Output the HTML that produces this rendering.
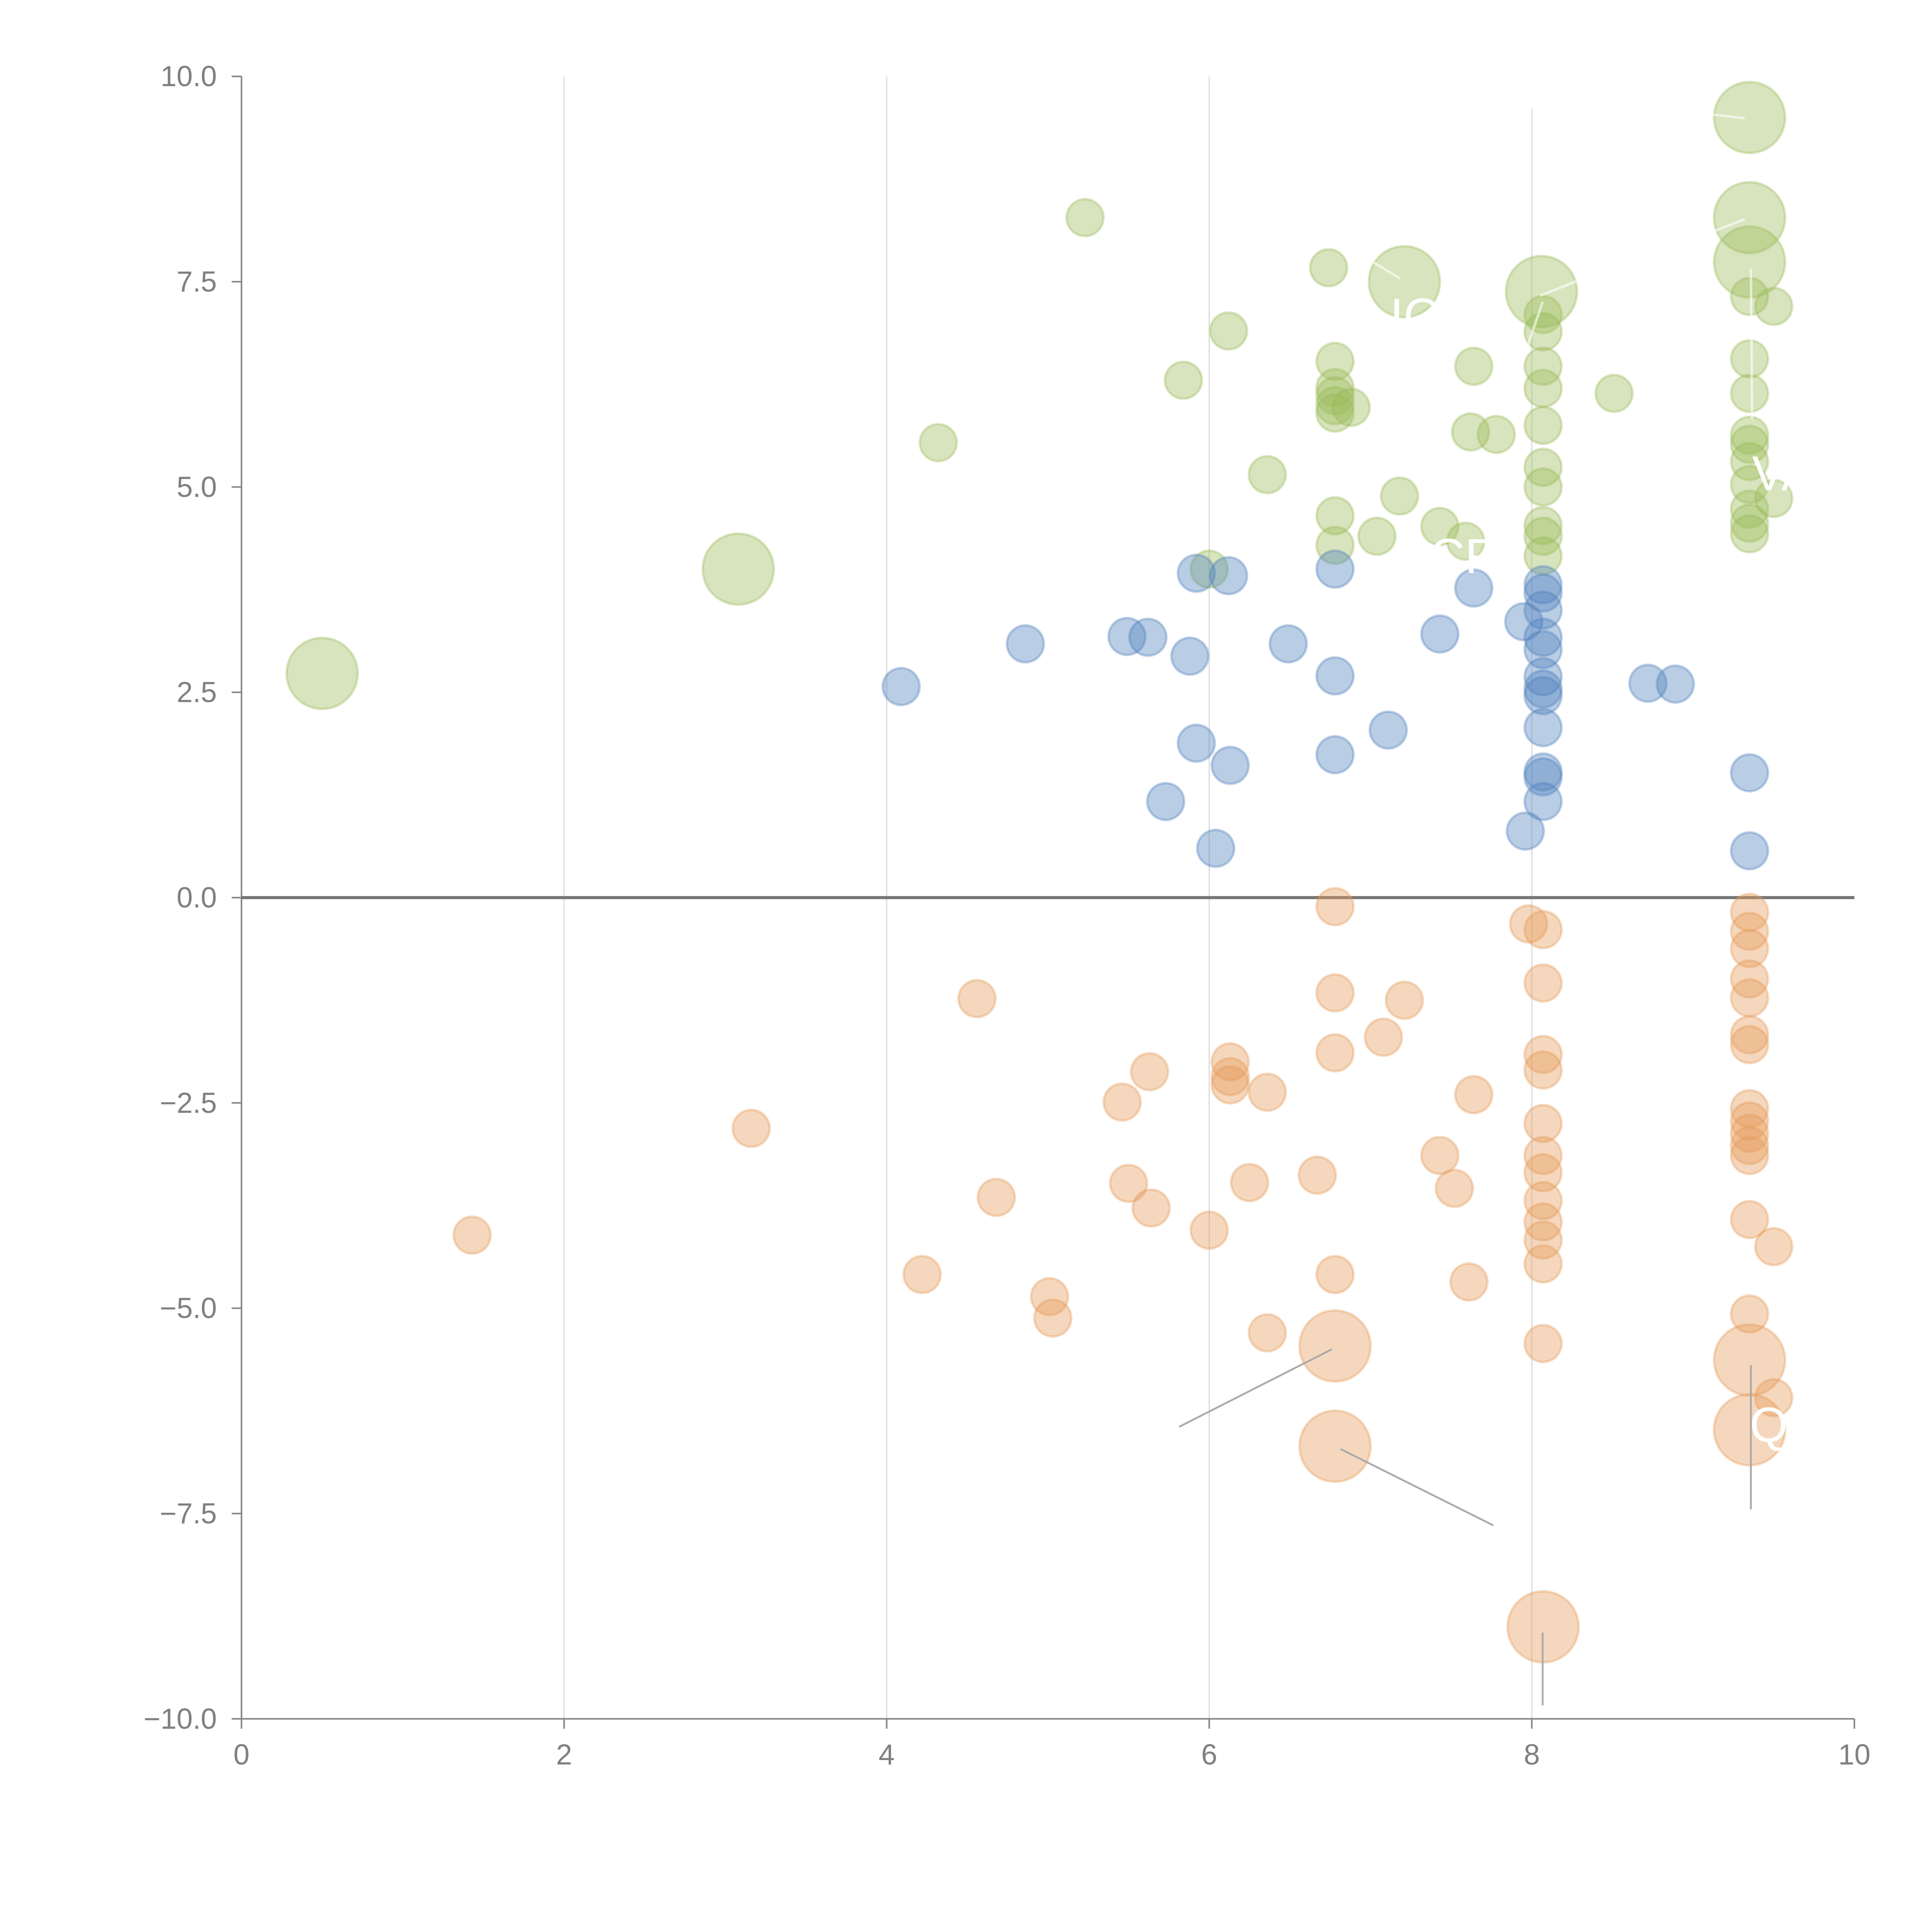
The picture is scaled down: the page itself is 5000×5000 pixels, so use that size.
<!DOCTYPE html>
<html><head><meta charset="utf-8"><style>
html,body{margin:0;padding:0;background:#fff;width:5000px;height:5000px;overflow:hidden}
svg{display:block}
text{font-family:"Liberation Sans",sans-serif}
</style></head><body>
<svg id="chart" width="5000" height="5000" viewBox="0 0 1568 1568" xmlns="http://www.w3.org/2000/svg">
<g id="grid"></g>
<g id="axes"></g>
<g id="marks"></g>
<g id="labels"></g>
</svg>
<script>
const xTicks=[0,2,4,6,8,10];
const xTickLabels=["0","2","4","6","8","10"];
const yTicks=[10,7.5,5,2.5,0,-2.5,-5,-7.5,-10];
const yTickLabels=["10.0","7.5","5.0","2.5","0.0","\u22122.5","\u22125.0","\u22127.5","\u221210.0"];

const greenX=[0.50,3.08,5.23,4.32,5.84,6.12,6.74,6.36,6.00,6.78,6.78,6.78,6.78,6.78,6.88,6.78,6.78,7.04,7.18,7.21,7.43,7.59,7.64,7.62,7.78,8.06,8.07,8.07,8.07,8.07,8.07,8.07,8.07,8.07,8.07,8.07,8.51,9.35,9.35,9.35,9.35,9.50,9.35,9.35,9.35,9.35,9.35,9.35,9.35,9.35,9.35,9.50];
const greenY=[2.73,4.00,8.28,5.54,6.30,6.90,7.67,5.15,4.00,6.53,6.21,6.11,5.99,5.90,5.97,4.65,4.29,4.40,4.89,7.50,4.52,4.34,6.47,5.67,5.64,7.38,7.10,6.89,6.47,6.20,5.75,5.24,5.00,4.53,4.40,4.16,6.14,9.50,8.28,7.74,7.32,7.20,6.56,6.14,5.63,5.52,5.31,5.03,4.73,4.56,4.43,4.86];
const greenSize=[3.7,3.7,1,1,1,1,1,1,1,1,1,1,1,1,1,1,1,1,1,3.7,1,1,1,1,1,3.7,1,1,1,1,1,1,1,1,1,1,1,3.7,3.7,3.7,1,1,1,1,1,1,1,1,1,1,1,1];

const blueX=[4.09,4.86,5.49,5.62,5.88,5.92,6.12,6.49,6.78,6.78,6.78,5.92,6.13,5.73,6.04,7.11,7.43,7.64,7.95,8.07,8.07,8.07,8.07,8.07,8.07,8.07,8.07,8.07,8.07,8.07,8.07,7.96,8.72,8.89,9.35,9.35];
const blueY=[2.57,3.09,3.18,3.17,2.94,3.95,3.92,3.09,4.00,2.70,1.74,1.88,1.61,1.17,0.60,2.04,3.21,3.77,3.36,3.81,3.71,3.50,3.17,3.02,2.69,2.54,2.46,2.07,1.53,1.47,1.17,0.81,2.61,2.60,1.52,0.57];

const orangeX=[1.43,3.16,4.22,4.56,4.68,5.01,5.03,5.46,5.50,5.63,5.64,6.00,6.13,6.13,6.13,6.36,6.25,6.36,6.67,6.78,6.78,6.78,6.78,6.78,6.78,7.08,7.21,7.43,7.52,7.64,7.61,7.98,8.07,8.07,8.07,8.07,8.07,8.07,8.07,8.07,8.07,8.07,8.07,8.07,8.07,9.35,9.35,9.35,9.35,9.35,9.35,9.35,9.35,9.35,9.35,9.35,9.35,9.35,9.35,9.35,9.35,9.50,9.50];
const orangeY=[-4.11,-2.81,-4.59,-1.23,-3.65,-4.86,-5.12,-2.49,-3.48,-2.12,-3.78,-4.05,-2.00,-2.18,-2.28,-2.37,-3.47,-5.30,-3.38,-0.11,-1.16,-1.89,-4.59,-5.46,-6.68,-1.70,-1.25,-3.14,-3.54,-2.40,-4.68,-0.32,-0.39,-1.04,-1.91,-2.10,-2.75,-3.14,-3.35,-3.69,-3.95,-4.17,-4.46,-5.43,-8.88,-0.18,-0.41,-0.62,-0.99,-1.22,-1.67,-1.79,-2.57,-2.72,-2.87,-3.02,-3.14,-3.92,-5.07,-5.63,-6.48,-4.25,-6.09];
const orangeSize=[1,1,1,1,1,1,1,1,1,1,1,1,1,1,1,1,1,1,1,1,1,1,1,3.7,3.7,1,1,1,1,1,1,1,1,1,1,1,1,1,1,1,1,1,1,1,3.7,1,1,1,1,1,1,1,1,1,1,1,1,1,1,3.7,3.7,1,1];

const NS="http://www.w3.org/2000/svg";
const X0=196,X1=1505,Y0=1395,Y1=62;
function sx(v){return X0+(v-0)/(10-0)*(X1-X0);}
function sy(v){return Y0-(v-(-10))/(20)*(Y0-Y1);}
function mk(tag,attrs,parent){const e=document.createElementNS(NS,tag);for(const k in attrs)e.setAttribute(k,attrs[k]);parent.appendChild(e);return e;}
const grid=document.getElementById('grid'),axes=document.getElementById('axes'),marks=document.getElementById('marks'),labels=document.getElementById('labels');

xTicks.forEach((t,i)=>{
  if(t>0&&t<10){
    const g=mk('line',{x1:sx(t),x2:sx(t),y1:(t===8?88:Y1),y2:Y0,stroke:'#dcdcdc','stroke-width':1},grid);
    
    
  }
  const tk=mk('line',{x1:sx(t),x2:sx(t),y1:Y0,y2:Y0+8,stroke:'#888','stroke-width':1.3},axes);
  
  
  const lb=mk('text',{x:sx(t),y:Y0+37,'text-anchor':'middle','font-size':23.5,fill:'#808080'},axes);
  lb.textContent=xTickLabels[i];
  
  
});
yTicks.forEach((t,i)=>{
  const tk=mk('line',{x1:X0-8,x2:X0,y1:sy(t),y2:sy(t),stroke:'#888','stroke-width':1.3},axes);
  
  
  const lb=mk('text',{x:X0-20,y:sy(t)+8,'text-anchor':'end','font-size':23.5,fill:'#808080'},axes);
  lb.textContent=yTickLabels[i];
  
  
});
const ya=mk('line',{x1:X0,x2:X0,y1:Y1,y2:Y0,stroke:'#888','stroke-width':1.3},axes);


const xa=mk('line',{x1:X0,x2:X1,y1:Y0,y2:Y0,stroke:'#888','stroke-width':1.3},axes);



function series(xs,ys,ss,fill,name){
  xs.forEach((x,i)=>{
    const r=15*Math.sqrt(ss?ss[i]:1);
    const c=mk('circle',{cx:sx(x),cy:sy(ys[i]),r:r,fill:fill,'fill-opacity':0.4,stroke:fill,'stroke-opacity':0.35,'stroke-width':2},marks);
    
    
  });
}
series(greenX,greenY,greenSize,'#9bbb59','green-bubble');
series(blueX,blueY,null,'#4f81bd','blue-bubble');
series(orangeX,orangeY,orangeSize,'#e69a5a','orange-bubble');

const zl=mk('line',{x1:X0,x2:X1,y1:sy(0),y2:sy(0),stroke:'#777','stroke-width':2.5},axes);



[[1081,1095,957,1158],[1088,1176,1212,1238],[1252,1325,1252,1384],[1421,1108,1421,1225]].forEach(a=>{
  const l=mk('line',{x1:a[0],y1:a[1],x2:a[2],y2:a[3],stroke:'#aaa','stroke-width':1.5},labels);
  
  
});
[[1136,226,1115,213],[1250,240,1280,228],[1416,96,1390,93],[1416,178,1390,188],[1421,218,1422,340],[1252,245,1238,286]].forEach(a=>{
  const l=mk('line',{x1:a[0],y1:a[1],x2:a[2],y2:a[3],stroke:'#fff','stroke-opacity':0.6,'stroke-width':2},labels);
  
  
});
[["IC",1128,270],["CF",1160,465],["VA",1422,398],["Q",1420,1170]].forEach(a=>{
  const t=mk('text',{x:a[1],y:a[2],'font-size':40,fill:'#fff'},labels);
  t.textContent=a[0];
  
  
});
</script>
</body></html>
